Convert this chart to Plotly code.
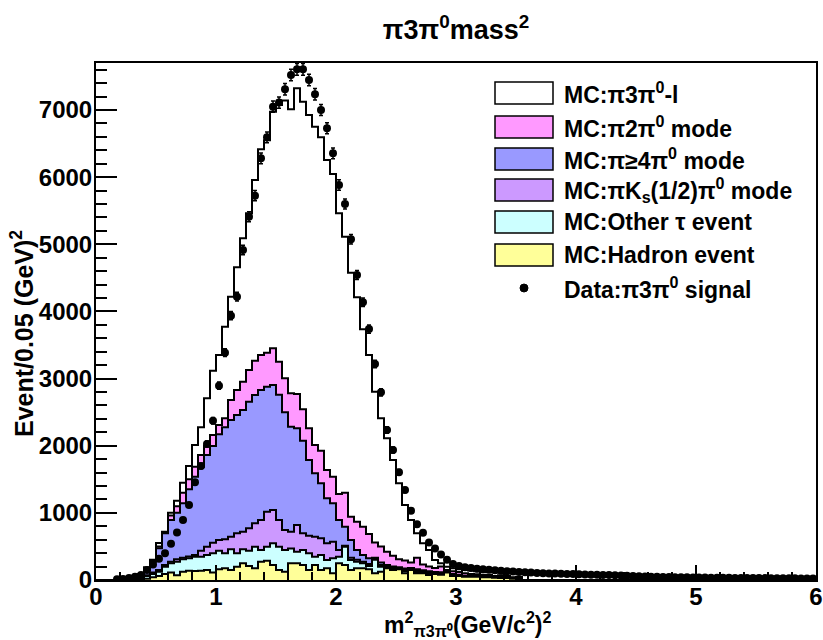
import numpy as np
import plotly.graph_objects as go

# ---------------- data (bin width 0.05 GeV^2, 0..6) ----------------
x_min, x_max, n_bins = 0.0, 6.0, 120
tail0 = [0] * 49

hadron = [0, 0, 0, 0, 0, 0, 0, 10, 20, 40, 60, 90, 110, 70, 124, 139, 134, 139, 149, 110,
          159, 174, 149, 199, 248, 208, 174, 273, 288, 223, 149, 124, 248, 248, 223, 149, 223, 149, 174, 99,
          248, 223, 149, 174, 174, 160, 99, 124, 174, 149, 160, 99, 149, 99, 99, 75, 90, 80, 110, 60,
          60, 50, 50, 50, 40, 40, 35, 30, 30, 20, 15] + tail0

other_tau = [0, 0, 0, 0, 0, 0, 5, 20, 40, 50, 64, 109, 138, 203, 184, 184, 213, 208, 223, 287,
             278, 223, 308, 198, 209, 229, 323, 174, 209, 323, 348, 323, 222, 174, 224, 248, 124, 223, 124, 224,
             100, 274, 149, 99, 74, 48, 201, 75, 11, 16, 10, 31, 11, 21, 11, 25, 10, 15, 5, 10,
             5, 5, 5, 5, 5, 5, 5, 5, 5, 5, 5] + tail0

pi_ks_pi0 = [0, 0, 0, 0, 0, 0, 0, 5, 10, 20, 26, 26, 25, 35, 22, 27, 25, 90, 125, 159,
             159, 209, 188, 298, 263, 333, 347, 447, 521, 497, 397, 298, 250, 397, 248, 263, 299, 249, 248, 248,
             99, 13, 32, 27, 22, 32, 20, 26, 15, 20, 10, 20, 10, 20, 20, 15, 10, 10, 5, 10,
             5, 5, 5, 3, 5, 5, 5, 5, 5, 5, 5] + tail0

pi_ge4pi0 = [0, 0, 0, 0, 0, 5, 25, 40, 79, 163, 322, 470, 621, 695, 812, 1001, 1167, 1251, 1365, 1440,
             1574, 1668, 1738, 1763, 1812, 1886, 1911, 1936, 1862, 1861, 1866, 1755, 1564, 1440, 1380, 1127, 943, 819, 671, 571,
             447, 284, 266, 147, 102, 83, 10, 35, 25, 15, 10, 20, 10, 20, 15, 15, 10, 10, 5, 10,
             10, 5, 5, 4, 10, 20, 5, 5, 5, 5, 5] + tail0

pi_2pi0 = [0, 0, 0, 0, 0, 0, 0, 5, 11, 17, 28, 5, 66, 97, 158, 149, 149, 174, 134, 164,
           139, 134, 298, 372, 422, 472, 512, 521, 506, 547, 492, 504, 496, 511, 467, 472, 422, 486, 421, 397,
           387, 506, 347, 422, 422, 362, 230, 240, 195, 160, 120, 120, 80, 170, 85, 70, 60, 85, 25, 40,
           40, 35, 25, 23, 20, 10, 10, 25, 15, 5, 20] + tail0

signal_mc = [0, 0, 0, 5, 10, 15, 10, 10, 30, 10, 50, 20, 43, 80, 150, 198, 323, 412, 710, 958,
             1042, 1365, 1539, 1827, 2135, 2333, 2691, 3064, 3164, 3524, 3823, 4136, 4230, 4554, 4582, 4667, 4741, 4667, 4617, 4508,
             4180, 3813, 3634, 3341, 2940, 2666, 2245, 1908, 1690, 1427, 1130, 827, 634, 365, 316, 247, 118, 48, 49, 44,
             40, 50, 50, 45, 45, 40, 55, 40, 45, 60, 45,
             90, 88, 84, 82, 80, 77, 75, 73, 70, 68, 66, 63, 60, 58, 57, 55, 52, 50, 48, 47,
             45, 44, 42, 41, 40, 38, 37, 36, 35, 34, 33, 32, 31, 30, 30, 29, 28, 28, 27, 26,
             26, 25, 25, 24, 24, 23, 23, 22, 22]

data = [0, 0, 0, 10, 15, 30, 50, 75, 150, 230, 318, 397, 540, 708, 894, 1117, 1455, 1698, 2026, 2373,
        2894, 3386, 3937, 4220, 4915, 5411, 5724, 6280, 6593, 7050, 7110, 7308, 7521, 7606, 7606, 7447, 7234, 7000, 6727, 6355,
        5883, 5600, 5074, 4543, 4136, 3738, 3217, 2795, 2234, 1936, 1604, 1340, 1032, 829, 705, 560, 470, 380, 300, 240,
        210, 190, 180, 168, 160, 152, 145, 138, 130, 126, 120,
        116, 110, 106, 100, 98, 95, 92, 90, 88, 86, 83, 80, 78, 75, 73, 70, 66, 62, 58, 55,
        52, 50, 48, 46, 44, 42, 41, 40, 38, 37, 36, 35, 34, 33, 32, 31, 30, 30, 29, 28,
        28, 27, 26, 26, 25, 25, 24, 24, 23]

x_ticks = [0, 1, 2, 3, 4, 5, 6]
y_ticks = [0, 1000, 2000, 3000, 4000, 5000, 6000, 7000]

legend_labels = [
    "MC:π3π<sup>0</sup>-l",
    "MC:π2π<sup>0</sup> mode",
    "MC:π≥4π<sup>0</sup> mode",
    "MC:πK<sub>s</sub>(1/2)π<sup>0</sup> mode",
    "MC:Other τ event",
    "MC:Hadron event",
    "Data:π3π<sup>0</sup> signal",
]

for arr in (hadron, other_tau, pi_ks_pi0, pi_ge4pi0, pi_2pi0, signal_mc, data):
    assert len(arr) == n_bins, len(arr)

# ---------------- build ----------------
edges = np.linspace(x_min, x_max, n_bins + 1)
centers = 0.5 * (edges[:-1] + edges[1:])

components = [hadron, other_tau, pi_ks_pi0, pi_ge4pi0, pi_2pi0, signal_mc]
colors = ["#FFFF99", "#CCFFFF", "#CC99FF", "#9999FF", "#FF99FF", "#FFFFFF"]
cum = np.cumsum(np.array(components, dtype=float), axis=0)

FONT = "Liberation Sans"
fig = go.Figure()

# draw from the top of the stack down so lower layers cover upper fills
for k in range(len(components) - 1, -1, -1):
    yk = list(cum[k]) + [cum[k][-1]]
    fig.add_trace(go.Scatter(
        x=edges, y=yk, mode="lines", line=dict(shape="hv", color="black", width=2),
        fill="tozeroy", fillcolor=colors[k], showlegend=False, hoverinfo="skip"))

d = np.array(data, dtype=float)
m = d > 0
fig.add_trace(go.Scatter(
    x=centers[m], y=d[m], mode="markers",
    marker=dict(color="black", size=8),
    error_y=dict(type="data", array=np.sqrt(d[m]), color="black", thickness=1.5, width=2),
    showlegend=False, hoverinfo="skip"))

# ---------------- legend (custom) ----------------
L, R, T, B = 96, 816, 63, 580
def px2x(px): return (px - L) / (R - L)
def py2y(py): return (B - py) / (B - T)

rows = [93, 127, 159, 190, 222, 255, 288]
leg_colors = ["#FFFFFF", "#FF99FF", "#9999FF", "#CC99FF", "#CCFFFF", "#FFFF99"]
shapes = []
annotations = []
for i, lab in enumerate(legend_labels):
    cy = rows[i]
    if i < 6:
        shapes.append(dict(type="rect", xref="paper", yref="paper",
                           x0=px2x(495), x1=px2x(553), y0=py2y(cy + 11), y1=py2y(cy - 11),
                           fillcolor=leg_colors[i], line=dict(color="black", width=1.5), layer="above"))
    else:
        shapes.append(dict(type="circle", xref="paper", yref="paper",
                           x0=px2x(520), x1=px2x(528), y0=py2y(cy + 4), y1=py2y(cy - 4),
                           fillcolor="black", line=dict(color="black", width=1), layer="above"))
    annotations.append(dict(xref="paper", yref="paper", x=px2x(562), y=py2y(cy),
                            xanchor="left", yanchor="middle", showarrow=False,
                            text="<b>" + lab + "</b>",
                            font=dict(family=FONT, size=23, color="black")))

# axis titles as positioned text
annotations.append(dict(xref="paper", yref="paper", x=px2x(468), y=py2y(624),
                        xanchor="center", yanchor="middle", showarrow=False,
                        text="<b>m<sup>2</sup><sub>π3π⁰</sub>(GeV/c<sup>2</sup>)<sup>2</sup></b>",
                        font=dict(family=FONT, size=23, color="black")))
annotations.append(dict(xref="paper", yref="paper", x=px2x(22), y=py2y(334),
                        xanchor="center", yanchor="middle", showarrow=False, textangle=-90,
                        text="<b>Event/0.05 (GeV)<sup>2</sup></b>",
                        font=dict(family=FONT, size=25, color="black")))

fig.update_layout(
    width=823, height=640,
    margin=dict(l=L, r=823 - R, t=T, b=640 - B),
    paper_bgcolor="white", plot_bgcolor="white",
    title=dict(text="<b>π3π<sup>0</sup>mass<sup>2</sup></b>", x=456 / 823,
               xanchor="center", y=1 - 30 / 640, yanchor="middle",
               font=dict(family=FONT, size=27, color="black")),
    shapes=shapes, annotations=annotations,
    showlegend=False,
)
fig.update_xaxes(
    range=[x_min, x_max], tickvals=x_ticks, ticktext=[f"<b>{v}</b>" for v in x_ticks],
    ticks="inside", ticklen=15, tickwidth=1.5, tickcolor="black",
    minor=dict(dtick=0.2, tick0=0, ticks="inside", ticklen=8, tickwidth=1.5, tickcolor="black"),
    showline=True, linecolor="black", linewidth=2, mirror=True, showgrid=False, zeroline=False,
    tickfont=dict(family=FONT, size=24, color="black"), ticklabeloverflow="allow",
    ticklabelstandoff=-6,
    automargin=False,
)
fig.update_yaxes(
    range=[0, 7700], tickvals=y_ticks, ticktext=[f"<b>{v}</b>" for v in y_ticks],
    ticks="inside", ticklen=21, tickwidth=1.5, tickcolor="black",
    minor=dict(dtick=200, tick0=0, ticks="inside", ticklen=11, tickwidth=1.5, tickcolor="black"),
    showline=True, linecolor="black", linewidth=2, mirror=True, showgrid=False, zeroline=False,
    tickfont=dict(family=FONT, size=24, color="black"), ticklabeloverflow="allow",
    ticklabelstandoff=-3,
    automargin=False,
)

fig.write_html("out.html", config={"displayModeBar": False},
               post_script="document.body.style.margin='0px';")
